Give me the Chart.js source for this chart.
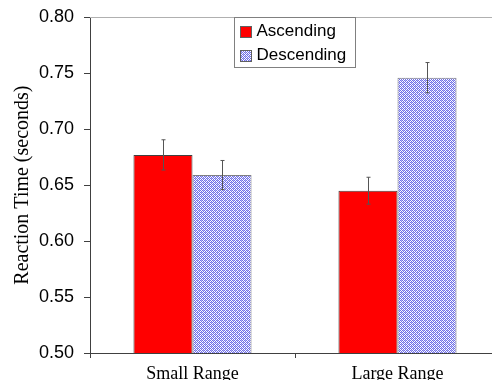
<!DOCTYPE html>
<html lang="en">
<head>
    <meta charset="UTF-8">
    <title>Reaction Time</title>
    <script src="https://cdn.jsdelivr.net/npm/chart.js"></script>
    <style>
        html, body { margin: 0; padding: 0; overflow: hidden; background: #fff; }
        #wrap { width: 500px; height: 380px; }
    </style>
</head>
<body>
<div id="wrap"><canvas id="myChart"></canvas></div>

<script>
    const categories = ['Small Range', 'Large Range'];
    const seriesNames = ['Ascending', 'Descending'];
    const ascending = [0.677, 0.645];
    const descending = [0.659, 0.746];
    const ascendingErr = [0.0135, 0.012];
    const descendingErr = [0.013, 0.0135];
    const yTicks = [0.50, 0.55, 0.60, 0.65, 0.70, 0.75, 0.80];

    function makeHatch() {
        const c = document.createElement('canvas');
        c.width = 4;
        c.height = 4;
        const g = c.getContext('2d');
        g.fillStyle = '#ffffff';
        g.fillRect(0, 0, 4, 4);
        g.fillStyle = '#6f6fe8';
        g.fillRect(0, 0, 1, 1);
        g.fillRect(2, 0, 1, 1);
        g.fillRect(1, 1, 1, 1);
        g.fillRect(3, 1, 1, 1);
        g.fillRect(0, 2, 1, 1);
        g.fillRect(2, 2, 1, 1);
        g.fillRect(1, 3, 1, 1);
        g.fillRect(3, 3, 1, 1);
        g.fillStyle = '#b4b4f4';
        g.fillRect(1, 0, 1, 1);
        g.fillRect(3, 2, 1, 1);
        return document.getElementById('myChart').getContext('2d').createPattern(c, 'repeat');
    }

    const hatch = makeHatch();

    // error bars + top frame line + boxed legend
    const extras = {
        id: 'extras',
        afterDatasetsDraw(chart) {
            const ctx = chart.ctx;
            const y = chart.scales.y;
            const area = chart.chartArea;
            ctx.save();
            ctx.strokeStyle = '#b0b0b0';
            ctx.lineWidth = 1;
            ctx.beginPath();
            ctx.moveTo(area.left, Math.round(area.top) + 0.5);
            ctx.lineTo(area.right, Math.round(area.top) + 0.5);
            ctx.stroke();

            const errs = [ascendingErr, descendingErr];
            chart.data.datasets.forEach((ds, di) => {
                const meta = chart.getDatasetMeta(di);
                meta.data.forEach((bar, i) => {
                    const v = ds.data[i];
                    const e = errs[di][i];
                    const x = Math.round(bar.x) + 0.5;
                    const yt = y.getPixelForValue(v + e);
                    const yb = y.getPixelForValue(v - e);
                    ctx.strokeStyle = '#555555';
                    ctx.beginPath();
                    ctx.moveTo(x, yt);
                    ctx.lineTo(x, yb);
                    ctx.moveTo(x - 2, yt);
                    ctx.lineTo(x + 2, yt);
                    ctx.moveTo(x - 2, yb);
                    ctx.lineTo(x + 2, yb);
                    ctx.stroke();
                });
            });

            // legend
            const lx = 234.5, ly = 17.5, lw = 121, lh = 50;
            ctx.fillStyle = '#ffffff';
            ctx.fillRect(lx, ly, lw, lh);
            ctx.strokeStyle = '#808080';
            ctx.strokeRect(lx, ly, lw, lh);
            ctx.font = '17px "Liberation Sans", Arial, sans-serif';
            ctx.textBaseline = 'middle';
            const fills = ['#ff0000', hatch];
            seriesNames.forEach((name, i) => {
                const cy = ly + 14 + i * 24;
                ctx.fillStyle = fills[i];
                ctx.fillRect(lx + 6, cy - 5, 11, 11);
                ctx.strokeStyle = '#606060';
                ctx.strokeRect(lx + 6, cy - 5, 11, 11);
                ctx.fillStyle = '#000000';
                ctx.fillText(name, lx + 22, cy);
            });
            ctx.restore();
        }
    };

    const ctx = document.getElementById('myChart').getContext('2d');
    new Chart(ctx, {
        type: 'bar',
        data: {
            labels: categories,
            datasets: [
                {
                    label: seriesNames[0],
                    data: ascending,
                    backgroundColor: '#ff0000',
                    borderColor: '#404040',
                    borderWidth: 1,
                    borderSkipped: 'bottom'
                },
                {
                    label: seriesNames[1],
                    data: descending,
                    backgroundColor: hatch,
                    borderColor: '#808080',
                    borderWidth: 1,
                    borderSkipped: 'bottom'
                }
            ]
        },
        options: {
            responsive: true,
            maintainAspectRatio: false,
            animation: false,
            events: [],
            layout: { padding: { top: 16, right: 0, left: 0, bottom: 0 } },
            datasets: {
                bar: { categoryPercentage: 0.576, barPercentage: 1.0 }
            },
            plugins: {
                legend: { display: false },
                tooltip: { enabled: false }
            },
            scales: {
                x: {
                    grid: {
                        offset: true,
                        drawOnChartArea: false,
                        color: '#404040',
                        tickLength: 5
                    },
                    border: { color: '#404040' },
                    ticks: {
                        color: '#000',
                        padding: 5,
                        font: { family: '"Liberation Serif", "Times New Roman", serif', size: 18 }
                    },
                    afterFit(s) { s.height = 27; }
                },
                y: {
                    min: 0.5,
                    max: 0.8,
                    afterBuildTicks(s) { s.ticks = yTicks.map(v => ({ value: v })); },
                    grid: {
                        drawOnChartArea: false,
                        color: '#404040',
                        tickLength: 6
                    },
                    border: { color: '#404040' },
                    ticks: {
                        color: '#000',
                        padding: 10,
                        font: { family: '"Liberation Sans", Arial, sans-serif', size: 18, lineHeight: 0.8 },
                        callback: v => v.toFixed(2)
                    },
                    title: {
                        display: true,
                        text: 'Reaction Time (seconds)',
                        color: '#000',
                        padding: { top: 11, bottom: 4 },
                        font: { family: '"Liberation Serif", "Times New Roman", serif', size: 20 }
                    },
                    afterFit(s) { s.width = 90; }
                }
            }
        },
        plugins: [extras]
    });
</script>
</body>
</html>
